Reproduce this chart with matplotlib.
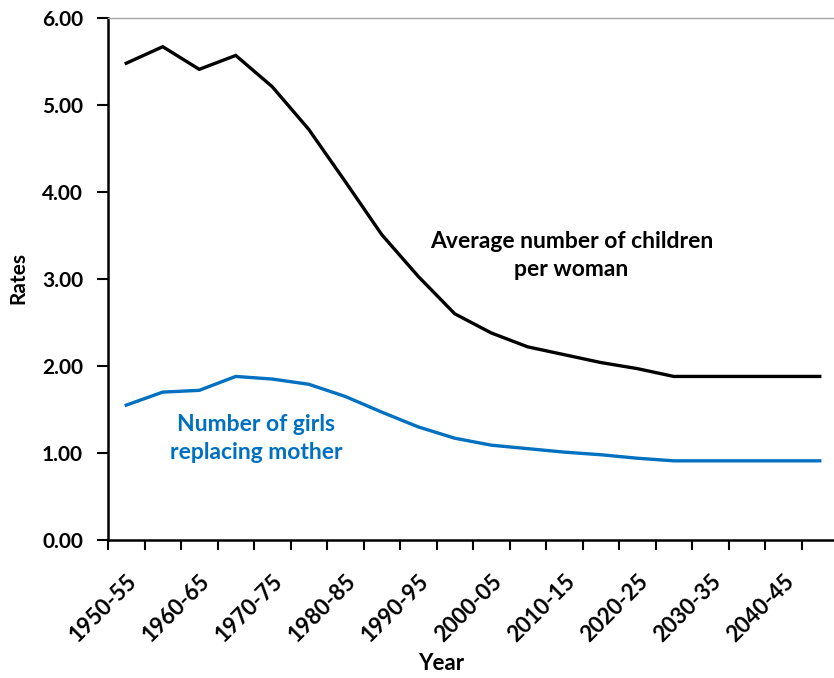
import numpy as np
import matplotlib
matplotlib.use("Agg")
import matplotlib.pyplot as plt

periods = ["1950-55", "1955-60", "1960-65", "1965-70", "1970-75", "1975-80",
           "1980-85", "1985-90", "1990-95", "1995-00", "2000-05", "2005-10",
           "2010-15", "2015-20", "2020-25", "2025-30", "2030-35", "2035-40",
           "2040-45", "2045-50"]
children = [5.48, 5.67, 5.41, 5.57, 5.21, 4.72, 4.12, 3.51, 3.03, 2.60,
            2.38, 2.22, 2.13, 2.04, 1.97, 1.88, 1.88, 1.88, 1.88, 1.88]
girls = [1.55, 1.70, 1.72, 1.88, 1.85, 1.79, 1.65, 1.47, 1.30, 1.17,
         1.09, 1.05, 1.01, 0.98, 0.94, 0.91, 0.91, 0.91, 0.91, 0.91]
yticks = [0, 1, 2, 3, 4, 5, 6]

plt.rcParams['font.family'] = ['Lato', 'DejaVu Sans']
plt.rcParams['font.weight'] = 'bold'

fig = plt.figure(figsize=(8.34, 6.78), dpi=100)
ax = fig.add_axes([108/834, 138/678, 730/834, 522/678])

x = np.arange(len(periods))
ax.plot(x, children, color='black', lw=2.4, solid_joinstyle='miter')
ax.plot(x, girls, color='#0070C0', lw=2.4, solid_joinstyle='miter')

ax.set_xlim(-0.5, len(periods) - 0.5)
ax.set_ylim(0, 6)

ax.set_yticks(yticks)
ax.set_yticklabels(["%.2f" % v for v in yticks], fontsize=15, fontweight='bold')
ax.tick_params(axis='y', direction='out', length=8, width=1.5, pad=10)

# labels on every other period, tick marks between periods
ax.set_xticks(x[::2])
ax.set_xticklabels(periods[::2], rotation=45, ha='right', rotation_mode='anchor',
                   fontsize=16, fontweight='bold')
ax.set_xticks(np.arange(-0.5, len(periods)), minor=True)
ax.tick_params(axis='x', which='major', length=0, pad=22)
ax.tick_params(axis='x', which='minor', direction='out', length=7, width=1.5)

ax.spines['left'].set_linewidth(1.8)
ax.spines['bottom'].set_linewidth(1.8)
ax.spines['top'].set_color('#A6A6A6')
ax.spines['top'].set_linewidth(1.0)
ax.spines['right'].set_visible(False)

fig.text(18/834, 1 - 278/678, "Rates", rotation=90, ha='center', va='center',
         fontsize=15, fontweight='bold')
fig.text(441/834, 1 - 663/678, "Year", ha='center', va='center',
         fontsize=16, fontweight='bold')

ax.text(12.2, 3.27, "Average number of children\nper woman", ha='center', va='center',
        fontsize=16.5, fontweight='bold', color='black', linespacing=1.4)
ax.text(3.55, 1.17, "Number of girls\nreplacing mother", ha='center', va='center',
        fontsize=16.5, fontweight='bold', color='#0070C0', linespacing=1.4)

fig.savefig("out.png", dpi=100)
